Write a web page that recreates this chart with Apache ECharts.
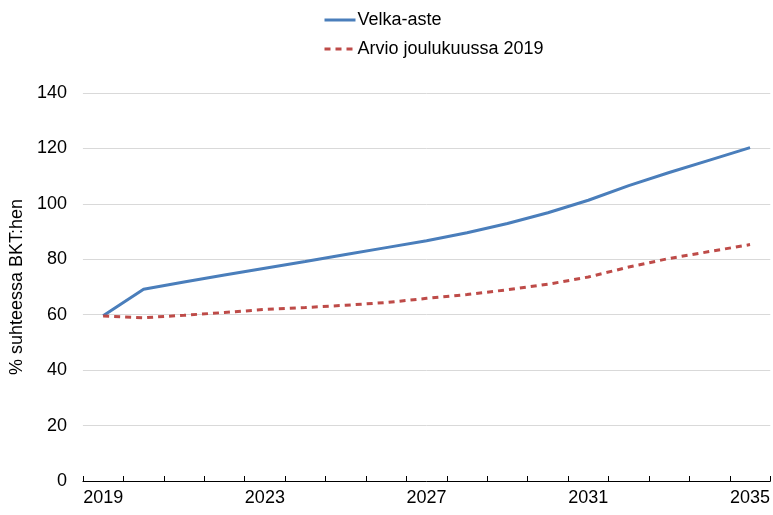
<!DOCTYPE html>
<html>
<head>
<meta charset="utf-8">
<script src="https://cdn.jsdelivr.net/npm/echarts@6/dist/echarts.min.js"></script>
<style>html,body{margin:0;padding:0;background:#fff}#c{width:773px;height:515px}</style>
</head>
<body>
<div id="c"></div>
<script>
const years = ['2019','2020','2021','2022','2023','2024','2025','2026','2027','2028','2029','2030','2031','2032','2033','2034','2035'];
const velkaAste = [59.6, 69.2, 71.8, 74.3, 76.8, 79.2, 81.7, 84.2, 86.7, 89.6, 92.9, 96.8, 101.3, 106.6, 111.3, 115.8, 120.3];
const arvio2019 = [59.5, 58.9, 59.8, 60.8, 61.9, 62.6, 63.4, 64.4, 65.9, 67.3, 69.0, 71.0, 73.6, 77.2, 80.3, 82.8, 85.3];
const seriesNames = ['Velka-aste', 'Arvio joulukuussa 2019'];
const yAxisName = '% suhteessa BKT:hen';

const font = 'Liberation Sans, Arial, sans-serif';
const chart = echarts.init(document.getElementById('c'));
chart.setOption({
  animation: false,
  textStyle: {fontFamily: font},
  legend: {
    orient: 'vertical',
    left: 318,
    top: 6,
    padding: 5,
    itemWidth: 31,
    itemHeight: 10,
    itemGap: 11,
    itemStyle: {opacity: 0},
    lineStyle: {width: 3},
    textStyle: {fontSize: 18, color: '#000', fontFamily: font, padding: [0,0,0,-3]},
    data: seriesNames
  },
  grid: {left: 82, right: 1, top: 93, bottom: 34, containLabel: false},
  xAxis: {
    type: 'category',
    data: years,
    boundaryGap: true,
    axisLine: {lineStyle: {color: '#000', width: 1}},
    axisTick: {show: true, inside: true, length: 5, interval: 0, lineStyle: {color: '#000'}},
    axisLabel: {interval: 3, fontSize: 18, color: '#000', margin: 8, fontFamily: font},
    splitLine: {show: false}
  },
  yAxis: {
    type: 'value',
    min: 0, max: 140, interval: 20,
    name: yAxisName,
    nameLocation: 'middle',
    nameGap: 53,
    nameRotate: 90,
    nameTextStyle: {fontSize: 18, color: '#000', fontFamily: font},
    axisLine: {show: false},
    axisTick: {show: false},
    axisLabel: {fontSize: 18, color: '#000', margin: 16, fontFamily: font},
    splitLine: {lineStyle: {color: '#d9d9d9', width: 1}}
  },
  series: [
    {
      name: seriesNames[0], type: 'line', data: velkaAste,
      symbol: 'none', smooth: false,
      lineStyle: {color: '#4a7ebb', width: 3},
      itemStyle: {color: '#4a7ebb'}
    },
    {
      name: seriesNames[1], type: 'line', data: arvio2019,
      symbol: 'none', smooth: false,
      lineStyle: {color: '#be4b48', width: 3, type: [6, 5]},
      itemStyle: {color: '#be4b48'}
    }
  ]
});
</script>
</body>
</html>
